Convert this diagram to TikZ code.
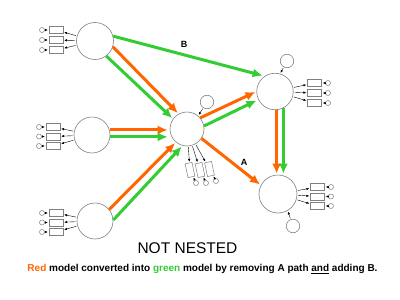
\documentclass[tikz,border=0pt]{standalone}
\usepackage{fontspec}
\setmainfont{Liberation Sans}
\usetikzlibrary{arrows.meta}
\definecolor{org}{RGB}{255,102,0}
\definecolor{grn}{RGB}{51,204,51}
\definecolor{cgray}{RGB}{128,128,128}
\begin{document}
\begin{tikzpicture}[x=1pt,y=-1pt,
  lat/.style={circle,draw=cgray,line width=0.6pt,inner sep=0pt},
  ind/.style={rectangle,draw=cgray,line width=0.5pt,minimum width=14pt,minimum height=7pt,inner sep=0pt},
  indv/.style={rectangle,draw=cgray,line width=0.5pt,minimum width=7pt,minimum height=14pt,inner sep=0pt,rotate=12},
  err/.style={circle,draw=cgray,line width=0.5pt,minimum size=5pt,inner sep=0pt},
  dist/.style={circle,draw=cgray,line width=0.6pt,minimum size=13.5pt,inner sep=0pt},
  sarr/.style={-{Latex[length=2.8pt,width=2.4pt]},black,line width=0.4pt,shorten <=1pt,shorten >=1pt},
  big/.style={line width=3pt,-{Latex[length=10pt,width=9pt]},shorten >=1pt},
  lbl/.style={font=\bfseries\fontsize{9}{11}\selectfont,inner sep=0pt}
  ]
\useasboundingbox (0,0) rectangle (400,300);

% latent variables
\node[lat,minimum size=37pt] (L1) at (95,41) {};
\node[lat,minimum size=36pt] (L2) at (92,135) {};
\node[lat,minimum size=36pt] (L3) at (95,221) {};
\node[lat,minimum size=34pt] (C) at (187,129) {};
\node[lat,minimum size=36.5pt] (TR) at (275,91.5) {};
\node[lat,minimum size=38pt] (BR) at (278,194) {};

% disturbances
\node[dist] (Cd) at (207,102) {};
\node[dist] (TRd) at (287,61) {};
\node[dist] (BRd) at (293,226) {};
\draw[sarr] (Cd) -- (C.50);
\draw[sarr] (TRd) -- (TR.74);
\draw[sarr] (BRd) -- (BR.-60);

% indicators L1
\foreach \i/\y in {a/30,b/40,c/50}{
  \node[ind] (L1\i) at (56,\y) {};
  \node[err] (L1e\i) at (42,\y) {};
  \draw[sarr] (L1e\i) -- (L1\i);
  \draw[sarr] (L1) -- (L1\i);
}
% indicators L2
\foreach \i/\y in {a/127,b/136.5,c/146}{
  \node[ind] (L2\i) at (53,\y) {};
  \node[err] (L2e\i) at (39,\y) {};
  \draw[sarr] (L2e\i) -- (L2\i);
  \draw[sarr] (L2) -- (L2\i);
}
% indicators L3
\foreach \i/\y in {a/213,b/222.5,c/232}{
  \node[ind] (L3\i) at (56,\y) {};
  \node[err] (L3e\i) at (42,\y) {};
  \draw[sarr] (L3e\i) -- (L3\i);
  \draw[sarr] (L3) -- (L3\i);
}
% indicators TR
\foreach \i/\y in {a/83,b/93,c/103}{
  \node[ind] (TR\i) at (314.5,\y) {};
  \node[err] (TRe\i) at (328,\y) {};
  \draw[sarr] (TRe\i) -- (TR\i);
  \draw[sarr] (TR) -- (TR\i);
}
% indicators BR
\foreach \i/\y in {a/187,b/196.5,c/206}{
  \node[ind] (BR\i) at (317.5,\y) {};
  \node[err] (BRe\i) at (331,\y) {};
  \draw[sarr] (BRe\i) -- (BR\i);
  \draw[sarr] (BR) -- (BR\i);
}
% indicators C
\foreach \i/\x/\y/\ex/\ey in {a/190/170/196/183,b/200/170/206/183,c/209.5/169/216/181}{
  \node[indv] (C\i) at (\x,\y) {};
  \node[err] (Ce\i) at (\ex,\ey) {};
  \draw[sarr] (Ce\i) -- (C\i);
  \draw[sarr] (C) -- (C\i);
}

% structural paths
\draw[big,org] (L1.-18) -- (C.119);
\draw[big,grn] (L1.-53) -- (C.144);
\draw[big,grn,shorten >=2pt] (L1.15) -- (TR.124);
\draw[big,org,shorten >=2pt] (L2.16) -- (L2.16 -| C.west);
\draw[big,grn,shorten >=2pt] (L2.-6) -- (L2.-6 -| C.west);
\draw[big,org] (L3.39) -- (C.-130);
\draw[big,grn] (L3.3) -- (C.-105);
\draw[big,org] (C.40) -- (TR.180);
\draw[big,grn,shorten >=2pt] (C.10) -- (TR.206);
\draw[big,org] (TR.-85) -- (TR.-85 |- BR.north);
\draw[big,grn] (TR.-63) -- (TR.-63 |- BR.north);
\draw[big,org] (C.-33) -- (BR.153);

\node[lbl] (lblA) at (244,162) {A};
\node[lbl] (lblB) at (184,44) {B};

\node[font=\fontsize{15.5}{18}\selectfont,inner sep=0pt] (title) at (187.5,248) {NOT NESTED};
\node[font=\bfseries\fontsize{10}{12}\selectfont,inner sep=0pt] (cap) at (202.5,269) {\textcolor{org}{Red} model converted into \textcolor{grn}{green} model by removing A path \underline{and} adding B.};
\end{tikzpicture}
\end{document}
